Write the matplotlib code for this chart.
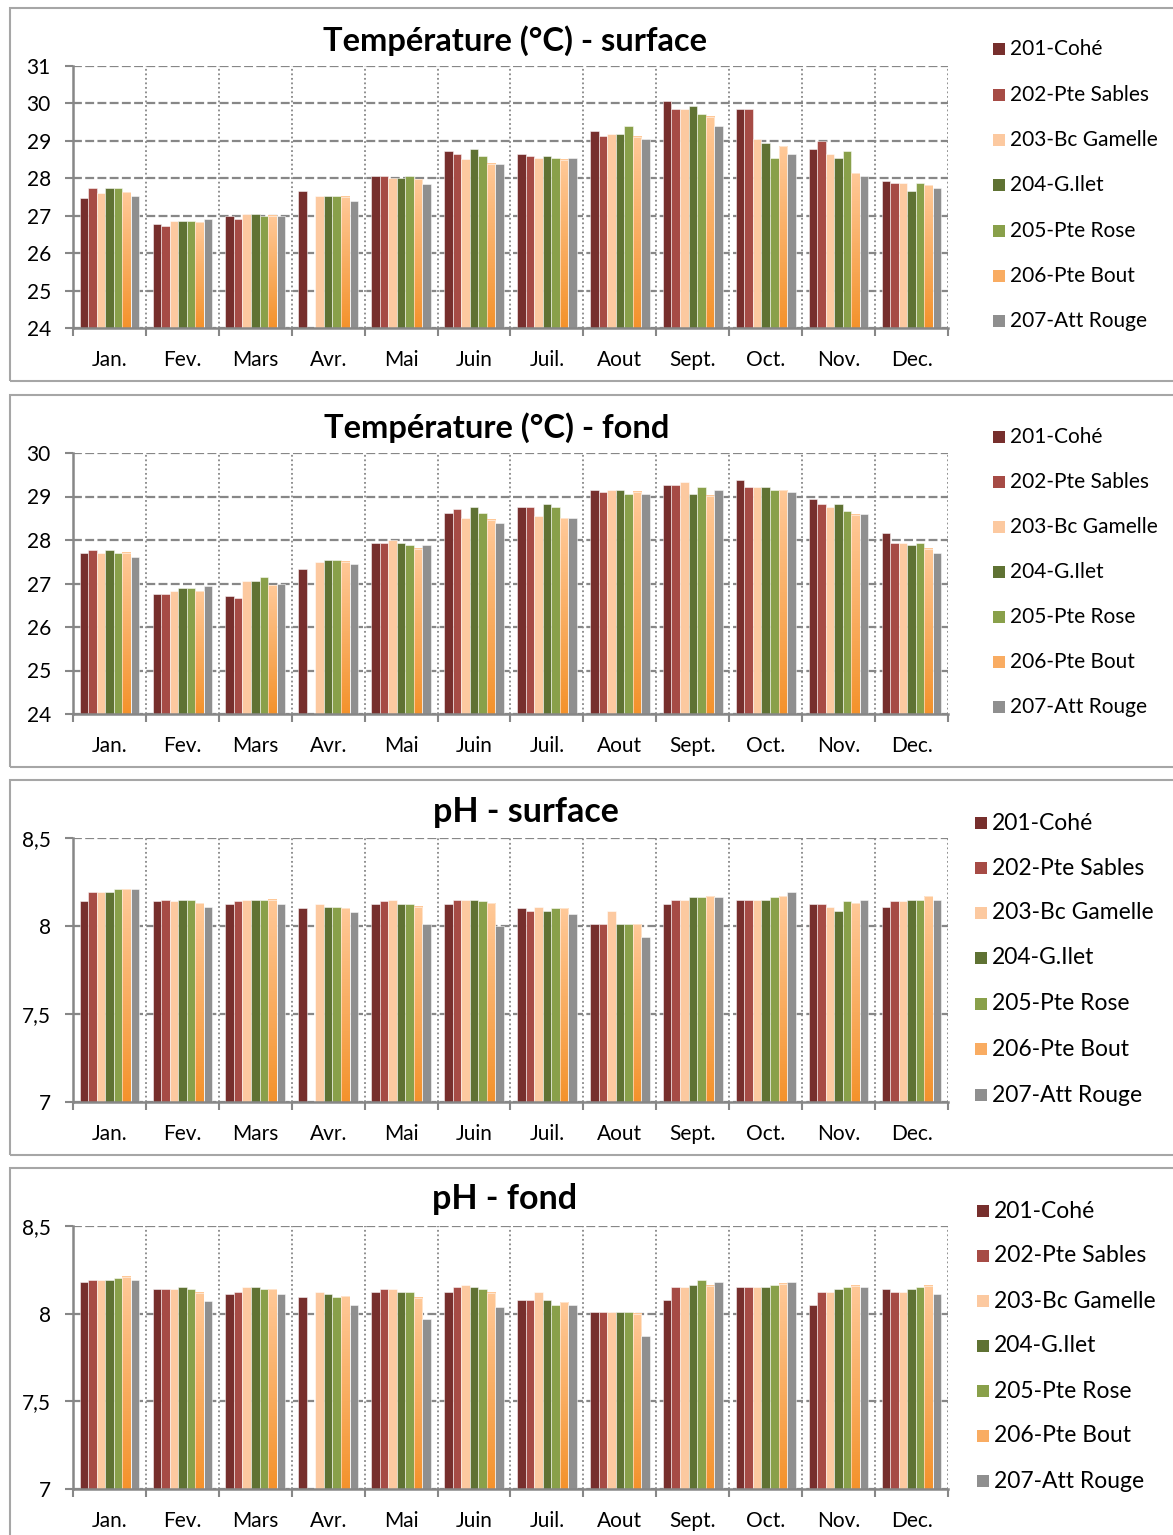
import numpy as np
import matplotlib
matplotlib.use("Agg")
import matplotlib.pyplot as plt
from matplotlib.patches import Rectangle
from matplotlib.colors import LinearSegmentedColormap

nan = np.nan
months = ["Jan.", "Fev.", "Mars", "Avr.", "Mai", "Juin", "Juil.", "Aout", "Sept.", "Oct.", "Nov.", "Dec."]
stations = ["201-Cohé", "202-Pte Sables", "203-Bc Gamelle", "204-G.Ilet", "205-Pte Rose", "206-Pte Bout", "207-Att Rouge"]

temp_surface = [
    [27.48, 26.79, 26.98, 27.66, 28.06, 28.72, 28.66, 29.26, 30.06, 29.86, 28.79, 27.93],
    [27.73, 26.72, 26.91, nan,   28.06, 28.65, 28.60, 29.13, 29.86, 29.86, 29.00, 27.87],
    [27.60, 26.85, 27.04, 27.54, 28.01, 28.52, 28.53, 29.19, 29.86, 29.05, 28.66, 27.87],
    [27.73, 26.85, 27.04, 27.54, 28.01, 28.78, 28.60, 29.19, 29.93, 28.93, 28.53, 27.67],
    [27.73, 26.85, 26.99, 27.54, 28.06, 28.59, 28.53, 29.39, 29.73, 28.53, 28.73, 27.87],
    [27.63, 26.83, 27.00, 27.51, 27.97, 28.39, 28.49, 29.11, 29.65, 28.86, 28.13, 27.82],
    [27.54, 26.91, 27.00, 27.40, 27.86, 28.38, 28.53, 29.05, 29.39, 28.66, 28.07, 27.74],
]
temp_fond = [
    [27.71, 26.77, 26.72, 27.33, 27.94, 28.61, 28.77, 29.16, 29.27, 29.38, 28.94, 28.16],
    [27.77, 26.77, 26.66, nan,   27.94, 28.72, 28.77, 29.11, 29.27, 29.21, 28.82, 27.94],
    [27.71, 26.82, 27.05, 27.49, 27.99, 28.50, 28.55, 29.16, 29.33, 29.21, 28.77, 27.94],
    [27.77, 26.89, 27.05, 27.55, 27.94, 28.77, 28.82, 29.16, 29.05, 29.21, 28.82, 27.88],
    [27.71, 26.89, 27.16, 27.55, 27.88, 28.61, 28.77, 29.05, 29.21, 29.16, 28.66, 27.94],
    [27.71, 26.82, 26.96, 27.50, 27.80, 28.46, 28.50, 29.11, 29.02, 29.14, 28.58, 27.80],
    [27.60, 26.94, 27.00, 27.44, 27.88, 28.38, 28.50, 29.05, 29.16, 29.11, 28.60, 27.71],
]
ph_surface = [
    [8.14, 8.14, 8.125, 8.10,  8.125, 8.125, 8.10,  8.01,  8.125, 8.15, 8.125, 8.11],
    [8.195, 8.15, 8.14, nan,   8.14,  8.15,  8.085, 8.01,  8.15,  8.15, 8.125, 8.14],
    [8.195, 8.14, 8.15, 8.125, 8.15,  8.15,  8.11,  8.085, 8.15,  8.15, 8.11,  8.14],
    [8.195, 8.15, 8.15, 8.11,  8.125, 8.15,  8.085, 8.01,  8.165, 8.15, 8.085, 8.15],
    [8.21, 8.15, 8.15, 8.11,  8.125, 8.14,  8.10,  8.01,  8.165, 8.165, 8.14, 8.15],
    [8.21, 8.13, 8.15, 8.10,  8.11,  8.13,  8.10,  8.01,  8.17,  8.17, 8.13,  8.17],
    [8.21, 8.11, 8.125, 8.08, 8.01,  8.00,  8.07,  7.94,  8.165, 8.195, 8.15, 8.15],
]
ph_fond = [
    [8.18, 8.14, 8.11,  8.095, 8.125, 8.125, 8.08,  8.01, 8.08,  8.15,  8.05,  8.14],
    [8.19, 8.14, 8.125, nan,   8.14,  8.15,  8.08,  8.01, 8.15,  8.15,  8.125, 8.125],
    [8.19, 8.14, 8.15,  8.125, 8.14,  8.165, 8.125, 8.01, 8.15,  8.15,  8.125, 8.125],
    [8.19, 8.15, 8.15,  8.11,  8.125, 8.15,  8.08,  8.01, 8.165, 8.15,  8.14,  8.14],
    [8.205, 8.14, 8.14, 8.095, 8.125, 8.14,  8.05,  8.01, 8.19,  8.165, 8.15,  8.15],
    [8.21, 8.12, 8.14,  8.10,  8.09,  8.12,  8.065, 8.00, 8.16,  8.17,  8.16,  8.16],
    [8.19, 8.07, 8.11,  8.05,  7.97,  8.04,  8.05,  7.87, 8.18,  8.18,  8.15,  8.11],
]

titles = ["Température (°C) - surface", "Température (°C) - fond", "pH - surface", "pH - fond"]
datasets = [temp_surface, temp_fond, ph_surface, ph_fond]
ylims = [(24, 31), (24, 30), (7, 8.5), (7, 8.5)]
yticks = [np.arange(24, 32, 1), np.arange(24, 31, 1), [7, 7.5, 8, 8.5], [7, 7.5, 8, 8.5]]
yticklabels = [[str(v) for v in range(24, 32)], [str(v) for v in range(24, 31)],
               ["7", "7,5", "8", "8,5"], ["7", "7,5", "8", "8,5"]]

colors = ["#772F2D", "#A64B45", "#FCC9A0", "#5F7233", "#89A04A", "#F9AC62", "#8F8F8F"]
grad = LinearSegmentedColormap.from_list("g206", ["#F4922B", "#FFC999"])

W, H = 1173, 1535
plt.rcParams['font.family'] = ['Lato', 'DejaVu Sans']
fig = plt.figure(figsize=(W / 100, H / 100), dpi=100)
fig.patch.set_facecolor("white")

# panel layout in pixels: (axes top, axes bottom, title x, title y, frame top, frame bottom,
#                          legend x, legend row ys, title size, legend size)
panels = [
    (66, 328, 515, 41, 8, 381, 993, [49, 95, 140, 185, 231, 276, 321], 23.5, 15),
    (453, 714, 497, 428, 395, 767, 993, [437, 482, 527, 572, 617, 662, 707], 23.5, 15),
    (838, 1102, 526, 812, 780, 1155, 975, [823, 868, 913, 958, 1004, 1049, 1095], 24.5, 16.5),
    (1226, 1489, 505, 1199, 1168, 1545, 977, [1211, 1256, 1301, 1346, 1391, 1436, 1481], 24.5, 16.5),
]
AX_L, AX_R = 73, 948
gridc = "#878787"
bw = 0.117
x = np.arange(len(months))

for k, (top, bot, tx, ty, ftop, fbot, lx, lys, tfs, lfs) in enumerate(panels):
    # frame
    fig.add_artist(Rectangle((10 / W, 1 - fbot / H), (1180 - 10) / W, (fbot - ftop) / H,
                             transform=fig.transFigure, fill=False, edgecolor="#A6A6A6", lw=1.5))
    ax = fig.add_axes([AX_L / W, 1 - bot / H, (AX_R - AX_L) / W, (bot - top) / H])
    ymin, ymax = ylims[k]
    data = datasets[k]
    for j in range(7):
        vals = np.array(data[j], dtype=float)
        pos = x + (j - 3) * bw
        if j == 5:
            for p, v in zip(pos, vals):
                if np.isnan(v):
                    continue
                ax.imshow(np.linspace(0, 1, 256).reshape(-1, 1), cmap=grad, origin="lower",
                          extent=(p - bw / 2, p + bw / 2, ymin, v), aspect="auto", zorder=2,
                          interpolation="bilinear")
            ax.bar(pos, vals - ymin, bw, bottom=ymin, color="none", edgecolor=(1, 1, 1, 0.6),
                   lw=0.6, zorder=3)
        else:
            ax.bar(pos, vals - ymin, bw, bottom=ymin, color=colors[j], edgecolor=(1, 1, 1, 0.6),
                   lw=0.6, zorder=2)
    ax.set_xlim(-0.5, 11.5)
    ax.set_ylim(ymin, ymax)
    ax.set_yticks(yticks[k])
    ax.set_yticklabels(yticklabels[k], fontsize=15)
    ax.set_xticks(x)
    ax.set_xticklabels(months, fontsize=15)
    ax.set_xticks(np.arange(-0.5, 12, 1), minor=True)
    ax.tick_params(axis="x", which="major", length=0, pad=16)
    ax.tick_params(axis="x", which="minor", length=6, width=1.5, color=gridc, direction="out")
    ax.tick_params(axis="y", which="major", length=6, width=1.5, color=gridc, direction="out", pad=10)
    ax.yaxis.grid(True, which="major", ls=(0, (4, 1.5)), color=gridc, lw=1.6, zorder=0)
    ax.xaxis.grid(True, which="minor", ls=(0, (1, 1.5)), color=gridc, lw=1.3, zorder=0)
    ax.xaxis.grid(False, which="major")
    ax.set_axisbelow(True)
    for s in ["top", "right"]:
        ax.spines[s].set_visible(False)
    for s in ["left", "bottom"]:
        ax.spines[s].set_color(gridc)
        ax.spines[s].set_linewidth(1.8)
        ax.spines[s].set_zorder(5)
    fig.text(tx / W, 1 - ty / H, titles[k], fontsize=tfs, fontweight="bold",
             ha="center", va="center")
    # legend
    for j, name in enumerate(stations):
        yy = lys[j]
        fig.add_artist(Rectangle(((lx) / W, 1 - (yy + 6) / H), 12 / W, 12 / H,
                                 transform=fig.transFigure, facecolor=colors[j], edgecolor="none"))
        fig.text((lx + 17) / W, 1 - yy / H, name, fontsize=lfs, ha="left", va="center")

fig.savefig("out.png", dpi=100)
